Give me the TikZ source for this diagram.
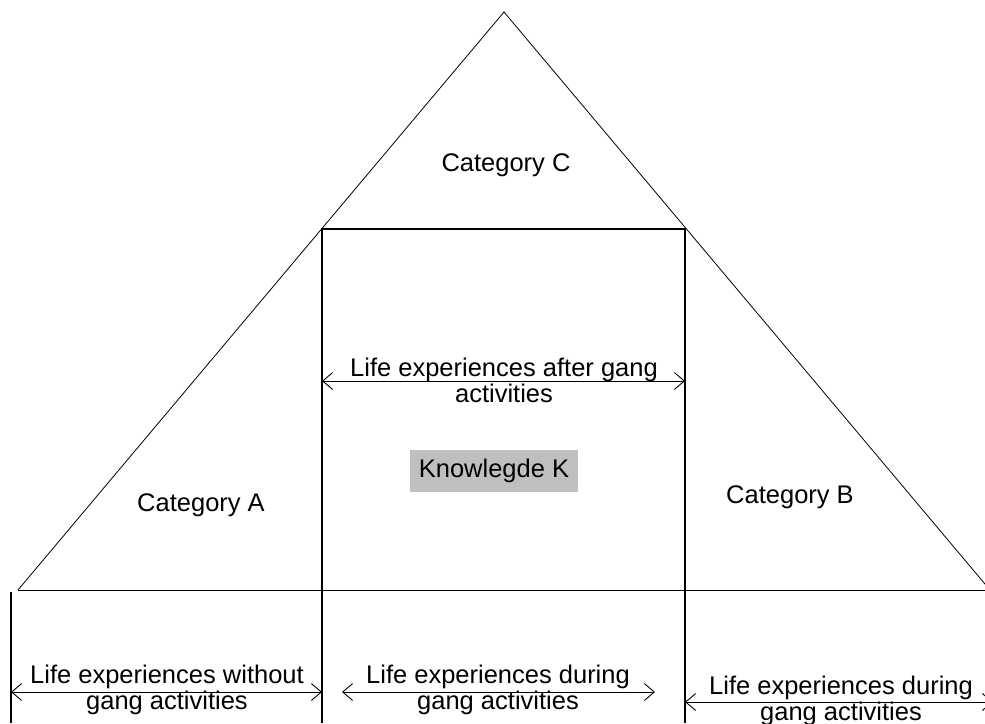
\documentclass[tikz,border=0pt]{standalone}
\usepackage{fontspec}
\setmainfont{Liberation Sans}
\usetikzlibrary{arrows.meta}
\begin{document}
\begin{tikzpicture}[x=1pt,y=-1pt,
  every node/.style={font=\fontsize{25.5}{26}\selectfont, inner sep=0pt},
  frameline/.style={line width=1.1pt},
  thinline/.style={line width=0.8pt},
  dimarrow/.style={line width=0.9pt, {Straight Barb[length=10pt,width=17pt]}-{Straight Barb[length=10pt,width=17pt]}},
  lbl/.style={align=center},
  kbox/.style={fill=black!25, minimum width=168pt, minimum height=42pt}]
\useasboundingbox (0,0) rectangle (985,723);
\clip (0,0) rectangle (985,723);
% triangle
\coordinate (apex) at (504,12);
\coordinate (bl) at (18,590);
\coordinate (br) at (990,590);
\coordinate (be) at (985,590);
\draw[thinline] (bl) -- (apex) -- (br);
\draw[thinline] (bl) -- (be);
% rectangle
\coordinate (rtl) at (322,229);
\coordinate (rtr) at (685,229);
\coordinate (rbl) at (322,723);
\coordinate (rbr) at (685,723);
\draw[frameline] (rbl) -- (rtl) -- (rtr) -- (rbr);
% left edge
\coordinate (lt) at (11,592);
\coordinate (lb) at (11,723);
\draw[frameline] (lt) -- (lb);
% labels
\node (catC) at (506,165) {Category C};
\node (catA) at (201,505) {Category A};
\node (catB) at (790,497) {Category B};
\node[kbox] (know) at (494,471) {Knowlegde K};
% top arrow
\coordinate (a1l) at (322,381);
\coordinate (a1r) at (685,381);
\draw[dimarrow] (a1l) -- (a1r);
\node[lbl] (t1) at (504,380) {Life experiences after gang\\activities};
% bottom left
\coordinate (a2l) at (11,692);
\coordinate (a2r) at (322,692);
\draw[dimarrow] (a2l) -- (a2r);
\node[lbl] (t2) at (167,690) {Life experiences without\\gang activities};
% bottom middle
\coordinate (a3l) at (342,692);
\coordinate (a3r) at (655,692);
\draw[dimarrow] (a3l) -- (a3r);
\node[lbl] (t3) at (498,690) {Life experiences during\\gang activities};
% bottom right
\coordinate (a4l) at (685,702);
\coordinate (a4r) at (993,702);
\draw[dimarrow] (a4l) -- (a4r);
\node[lbl] (t4) at (841,701) {Life experiences during\\gang activities};
\end{tikzpicture}
\end{document}
